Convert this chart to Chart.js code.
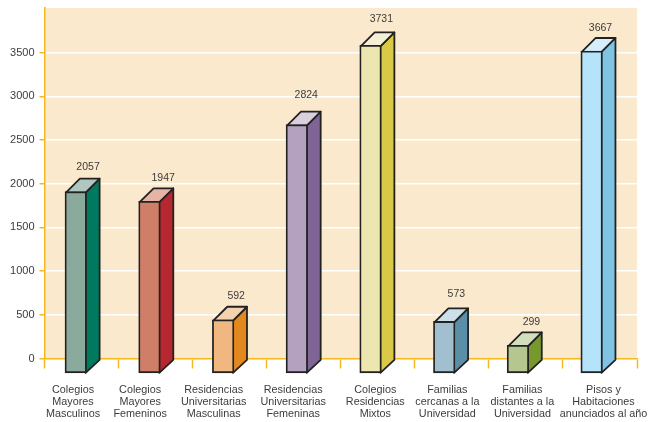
<!DOCTYPE html>
<html>
<head>
<meta charset="utf-8">
<style>
  html, body { margin: 0; padding: 0; background: #fff; }
  canvas { display: block; }
</style>
<script src="https://cdn.jsdelivr.net/npm/chart.js@4/dist/chart.umd.min.js"></script>
</head>
<body>
<canvas id="plazas-chart" width="648" height="422"></canvas>
<script>
const categories = [
  ['Colegios', 'Mayores', 'Masculinos'],
  ['Colegios', 'Mayores', 'Femeninos'],
  ['Residencias', 'Universitarias', 'Masculinas'],
  ['Residencias', 'Universitarias', 'Femeninas'],
  ['Colegios', 'Residencias', 'Mixtos'],
  ['Familias', 'cercanas a la', 'Universidad'],
  ['Familias', 'distantes a la', 'Universidad'],
  ['Pisos y', 'Habitaciones', 'anunciados al año']
];
const values = [2057, 1947, 592, 2824, 3731, 573, 299, 3667];
const yTickValues = [0, 500, 1000, 1500, 2000, 2500, 3000, 3500];

// colours of the three visible faces of each bar
const frontColors = ['#8aaa9e', '#cf7e68', '#f0b781', '#b3a1bf', '#ede6ae', '#a2bfd0', '#b5c78f', '#b5e3fa'];
const sideColors = ['#007a5e', '#b62830', '#e3881e', '#7f6496', '#d9c946', '#5b8fa8', '#78982e', '#7fc4e3'];
const topColors = ['#b0c7bf', '#e7b3a4', '#f5d2ae', '#d9cfde', '#f5f0d5', '#cddfe8', '#d3dfbc', '#d6eefc'];

// the original labels sit a little off their category centres
const tickNudgeX = [-8.5, -15.5, -16, -10.5, -2.5, -4.5, -3.5, 3.5];
const valueNudgeX = [6.7, 8.1, 7.4, 3.8, 5.2, 6.5, 7.9, 3.3];
const valueGapY = [12, 10, 11, 17, 13, 14, 10, 10];

const GOLD = '#f5b81e';
const INK = '#3c3c3c';
const LINE = '#222222';
const FONT = '"Liberation Sans", Arial, sans-serif';
const SHIFT_X = -5.6, SHIFT_Y = 13, DEPTH = 14;
const OUTLINE = 1.8;

// cream plot area, nudged tick labels
const plotBackground = {
  id: 'plotBackground',
  afterLayout(chart) {
    chart.scales.x.getLabelItems().forEach((item, i) => {
      item.options.translation[0] += tickNudgeX[i];
    });
  },
  beforeDraw(chart) {
    const { ctx, chartArea } = chart;
    ctx.save();
    ctx.fillStyle = '#fbe9cd';
    ctx.fillRect(chartArea.left, chartArea.top, chartArea.width, chartArea.height);
    ctx.restore();
  }
};

// Side and top faces go under the library's bars, and the bars are shifted
// down and left so that they become the front face of the box.
const boxFaces = {
  id: 'boxFaces',
  beforeDatasetsDraw(chart) {
    const { ctx } = chart;
    ctx.save();
    ctx.lineWidth = OUTLINE;
    ctx.strokeStyle = LINE;
    ctx.lineJoin = 'round';
    chart.getDatasetMeta(0).data.forEach((bar, i) => {
      const half = bar.width / 2 - OUTLINE / 2;
      const fl = bar.x + SHIFT_X - half;
      const fr = bar.x + SHIFT_X + half;
      const ft = bar.y + SHIFT_Y + OUTLINE / 2;
      const bl = fl + DEPTH;
      const br = fr + DEPTH;
      const bt = bar.y;

      ctx.fillStyle = sideColors[i];
      ctx.beginPath();
      ctx.moveTo(fr, ft);
      ctx.lineTo(br, bt);
      ctx.lineTo(br, bar.base);
      ctx.lineTo(fr, bar.base + SHIFT_Y);
      ctx.closePath();
      ctx.fill();
      ctx.stroke();

      ctx.fillStyle = topColors[i];
      ctx.beginPath();
      ctx.moveTo(fl, ft);
      ctx.lineTo(bl, bt);
      ctx.lineTo(br, bt);
      ctx.lineTo(fr, ft);
      ctx.closePath();
      ctx.fill();
      ctx.stroke();
    });
    ctx.restore();
    ctx.save();
    ctx.translate(SHIFT_X, SHIFT_Y);
  },
  afterDatasetsDraw(chart) {
    const { ctx } = chart;
    ctx.restore();
    ctx.save();
    ctx.font = '10.5px ' + FONT;
    ctx.fillStyle = INK;
    ctx.textAlign = 'center';
    ctx.textBaseline = 'middle';
    chart.getDatasetMeta(0).data.forEach((bar, i) => {
      ctx.fillText(values[i], bar.x + valueNudgeX[i], bar.y - valueGapY[i]);
    });
    ctx.restore();
  }
};

new Chart(document.getElementById('plazas-chart').getContext('2d'), {
  type: 'bar',
  data: {
    labels: categories,
    datasets: [{
      // bars are spaced slightly tighter than the axis ticks in the original,
      // so they run on their own hidden index scale
      xAxisID: 'barIndex',
      data: values.map((y, x) => ({ x, y })),
      backgroundColor: frontColors,
      borderColor: LINE,
      borderWidth: OUTLINE,
      borderSkipped: false,
      barThickness: 21.5,
      base: -15,
      clip: false
    }]
  },
  options: {
    responsive: false,
    animation: false,
    layout: { padding: { top: 8, right: 11, left: 0, bottom: 0 } },
    plugins: {
      legend: { display: false },
      tooltip: { enabled: false }
    },
    scales: {
      barIndex: {
        type: 'linear',
        axis: 'x',
        display: false,
        offset: false,
        min: -0.5,
        max: 7.54
      },
      x: {
        type: 'category',
        afterFit: (scale) => {
          scale.height = 63.5;
          scale.paddingLeft = 0;
          scale.paddingRight = 0;
        },
        border: { color: GOLD, width: 1.5 },
        grid: {
          offset: true,
          drawOnChartArea: false,
          tickColor: GOLD,
          tickWidth: 1.5,
          tickLength: 10
        },
        ticks: {
          maxRotation: 0,
          autoSkip: false,
          padding: 16,
          color: INK,
          font: { family: FONT, size: 10.8, lineHeight: 1.11 }
        }
      },
      y: {
        min: 0,
        max: 4010,
        afterFit: (scale) => {
          scale.width = 44.5;
          scale.paddingTop = 0;
          scale.paddingBottom = 0;
        },
        afterBuildTicks: (scale) => {
          scale.ticks = yTickValues.map((value) => ({ value }));
        },
        border: { color: GOLD, width: 1.5 },
        grid: {
          color: '#ffffff',
          lineWidth: 1.5,
          tickColor: GOLD,
          tickWidth: 1.5,
          tickLength: 5
        },
        ticks: {
          padding: 5,
          color: INK,
          font: { family: FONT, size: 11 },
          callback: (value) => String(value)
        }
      }
    }
  },
  plugins: [plotBackground, boxFaces]
});
</script>
</body>
</html>
